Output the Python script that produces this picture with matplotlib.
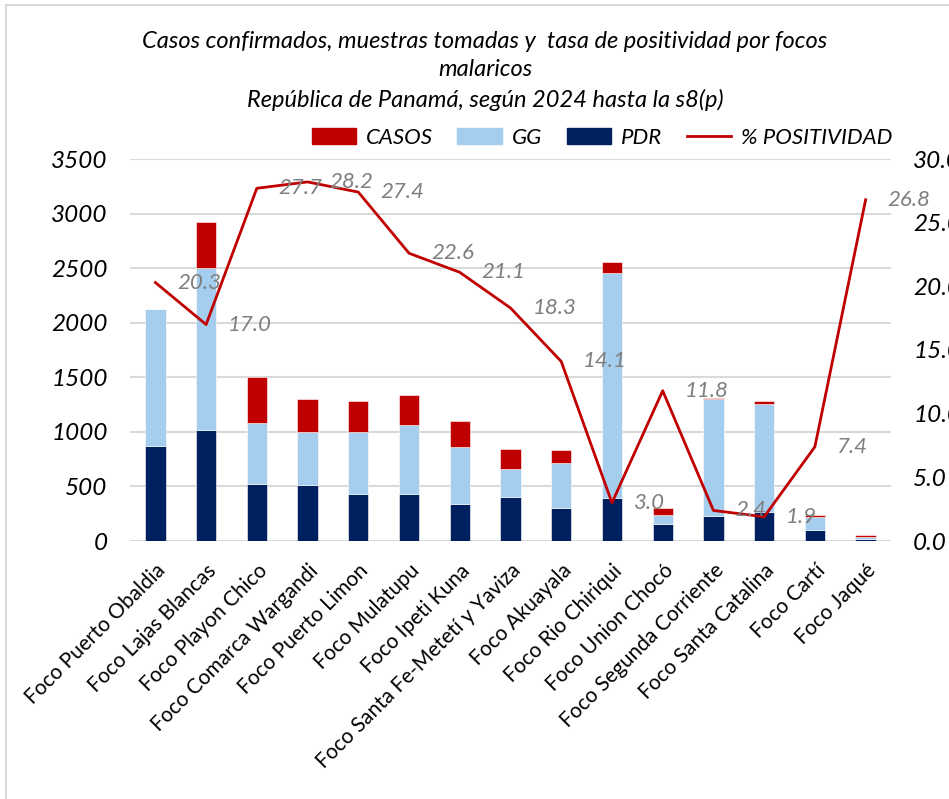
import numpy as np
import matplotlib
matplotlib.use("Agg")
import matplotlib.pyplot as plt
from matplotlib.lines import Line2D
from matplotlib.patches import Patch, Rectangle

plt.rcParams['font.family'] = ['Lato', 'DejaVu Sans']

focos = ["Foco Puerto Obaldia", "Foco Lajas Blancas", "Foco Playon Chico",
         "Foco Comarca Wargandi", "Foco Puerto Limon", "Foco Mulatupu",
         "Foco Ipeti Kuna", "Foco Santa Fe-Metetí y Yaviza", "Foco Akuayala",
         "Foco Rio Chiriqui", "Foco Union Chocó", "Foco Segunda Corriente",
         "Foco Santa Catalina", "Foco Cartí", "Foco Jaqué"]
pdr = [870, 1017, 522, 513, 430, 433, 339, 403, 302, 394, 156, 229, 266, 100, 18]
gg = [1255, 1483, 559, 485, 570, 630, 522, 257, 412, 2061, 82, 1071, 989, 120, 17]
casos = [0, 422, 421, 302, 283, 274, 238, 183, 120, 101, 64, 10, 28, 18, 20]
positividad = [20.3, 17.0, 27.7, 28.2, 27.4, 22.6, 21.1, 18.3, 14.1, 3.0,
               11.8, 2.4, 1.9, 7.4, 26.8]

c_casos = "#C00000"
c_gg = "#A5CDEE"
c_pdr = "#002060"
grid_c = "#D9D9D9"

fig = plt.figure(figsize=(9.49, 7.99), dpi=100)
ax = fig.add_axes([130/949, 1-541/799, (891-130)/949, (541-159)/799])
ax2 = ax.twinx()

x = np.arange(len(focos))
pdr = np.array(pdr)
gg = np.array(gg)
casos = np.array(casos)
w = 0.4
ax.bar(x, pdr, w, color=c_pdr, edgecolor="white", linewidth=0.4, zorder=2)
ax.bar(x, gg, w, bottom=pdr, color=c_gg, edgecolor="white", linewidth=0.4, zorder=2)
ax.bar(x, casos, w, bottom=pdr+gg, color=c_casos, edgecolor="white", linewidth=0.4, zorder=2)

ax.set_ylim(0, 3500)
ax.set_yticks(np.arange(0, 3501, 500))
ax.set_xlim(-0.5, len(focos)-0.5)
ax.yaxis.grid(True, color=grid_c, linewidth=1.5, zorder=0)
ax.set_axisbelow(True)
for s in ax.spines.values():
    s.set_visible(False)
for s in ax2.spines.values():
    s.set_visible(False)
ax.tick_params(axis='both', length=0)
ax.tick_params(axis='y', labelsize=17.5, pad=16)
ax.tick_params(axis='x', pad=14)
ax.set_xticks(x)
ax.set_xticklabels(focos, rotation=45, ha='right', rotation_mode='anchor', fontsize=15)
for t in ax.get_yticklabels():
    t.set_fontstyle('italic')

ax2.plot(x, positividad, color=c_casos, linewidth=2, zorder=3)
ax2.set_ylim(0, 30)
ax2.set_yticks(np.arange(0, 31, 5))
ax2.set_yticklabels([f"{v:.1f}" for v in np.arange(0, 31, 5)], fontstyle='italic')
ax2.tick_params(axis='y', length=0, labelsize=17.5, pad=16)
for xi, v in zip(x, positividad):
    ax2.annotate(f"{v:.1f}", (xi, v), xytext=(22, 0), textcoords='offset pixels',
                 ha='left', va='center', fontsize=16, color="#7F7F7F", fontstyle='italic')

fig.text(485/949, 1-42/799, "Casos confirmados, muestras tomadas y  tasa de positividad por focos",
         ha='center', va='center', fontsize=17, fontstyle='italic')
fig.text(485/949, 1-70/799, "malaricos", ha='center', va='center', fontsize=17, fontstyle='italic')
fig.text(485/949, 1-100/799, "República de Panamá, según 2024 hasta la s8(p)",
         ha='center', va='center', fontsize=17, fontstyle='italic')

handles = [Patch(color=c_casos), Patch(color=c_gg), Patch(color=c_pdr),
           Line2D([0], [0], color=c_casos, linewidth=2)]
leg = fig.legend(handles, ["CASOS", "GG", "PDR", "% POSITIVIDAD"], ncol=4, frameon=False,
                 loc='center', bbox_to_anchor=(602/949, 1-138/799),
                 prop={'size': 16, 'style': 'italic'}, handlelength=2.0,
                 handletextpad=0.45, columnspacing=1.1)

fig.patches.append(Rectangle((6/949, -0.1), 1.2, 1-5/799+0.1, transform=fig.transFigure,
                             fill=False, edgecolor=grid_c, linewidth=1.5))

fig.savefig("out.png", dpi=100)
